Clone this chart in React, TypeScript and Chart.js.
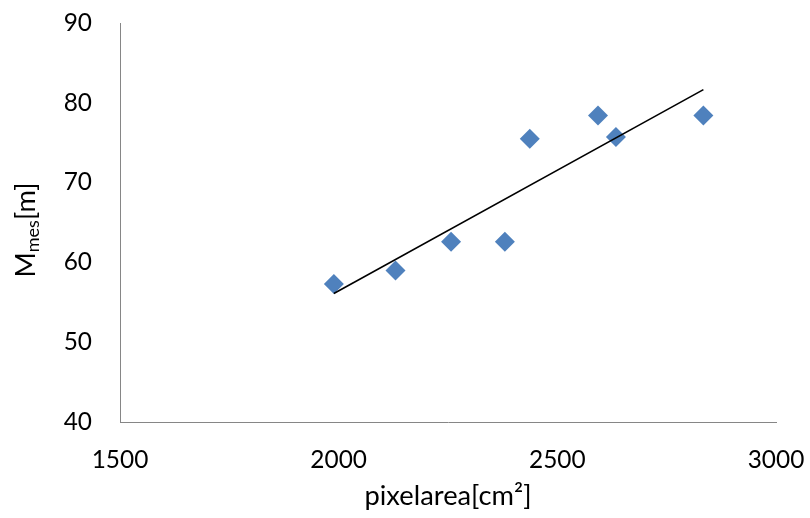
import React, { useEffect, useRef } from "react";
import { Chart, registerables } from "chart.js";

Chart.register(...registerables);

const pixelArea = [1989, 2130, 2257, 2380, 2437, 2593, 2634, 2834];
const mMes = [57.3, 59.0, 62.6, 62.6, 75.5, 78.4, 75.7, 78.4];
const trendX = [1989, 2834];
const trendY = [56.1, 81.65];
const xTicks = [1500, 2000, 2500, 3000];
const yTicks = [40, 50, 60, 70, 80, 90];
const xTitle = "pixelarea[cm²]";
const yTitleMain = "M";
const yTitleSub = "mes";
const yTitleUnit = "[m]";

const FONT = "Lato, 'Open Sans', sans-serif";

function fitSize(text: string, target: number): number {
  const c = document.createElement("canvas").getContext("2d");
  if (!c) return 25;
  c.font = `100px ${FONT}`;
  const w = c.measureText(text).width;
  if (!w) return 25;
  return Math.round(((100 * target) / w) * 10) / 10;
}

export default function App() {
  const ref = useRef<HTMLCanvasElement | null>(null);
  useEffect(() => {
    if (!ref.current) return;
    const tickSize = fitSize("1500", 56.7);
    const titleSize = fitSize(xTitle, 167);
    const titlePlugin = {
      id: "axisTitles",
      afterDraw(chart: any) {
        const ctx = chart.ctx;
        const area = chart.chartArea;
        ctx.save();
        ctx.fillStyle = "#000";
        ctx.font = `${titleSize}px ${FONT}`;
        ctx.textAlign = "center";
        ctx.textBaseline = "alphabetic";
        ctx.fillText(xTitle, (area.left + area.right) / 2, 505);
        const mainFont = `${titleSize}px ${FONT}`;
        const subFont = `${Math.round(titleSize * 0.65)}px ${FONT}`;
        ctx.font = mainFont;
        const wM = ctx.measureText(yTitleMain).width;
        const wU = ctx.measureText(yTitleUnit).width;
        ctx.font = subFont;
        const wS = ctx.measureText(yTitleSub).width;
        const total = wM + wS + wU;
        ctx.translate(35, 230);
        ctx.rotate(-Math.PI / 2);
        ctx.textAlign = "left";
        let x = -total / 2;
        ctx.font = mainFont;
        ctx.fillText(yTitleMain, x, 0);
        x += wM;
        ctx.font = subFont;
        ctx.fillText(yTitleSub, x, 4);
        x += wS;
        ctx.font = mainFont;
        ctx.fillText(yTitleUnit, x, 0);
        ctx.restore();
      },
    };
    const zeroPad = (s: any) => {
      s.paddingTop = 0;
      s.paddingBottom = 0;
      s.paddingLeft = 0;
      s.paddingRight = 0;
    };
    const chart = new Chart(ref.current, {
      type: "scatter",
      data: {
        datasets: [
          {
            type: "scatter",
            data: pixelArea.map((x, i) => ({ x, y: mMes[i] })),
            pointStyle: "rectRot",
            pointRadius: 10,
            pointHoverRadius: 10,
            backgroundColor: "#4F81BD",
            borderColor: "#4F81BD",
            borderWidth: 0,
            order: 2,
          },
          {
            type: "line",
            data: trendX.map((x, i) => ({ x, y: trendY[i] })),
            borderColor: "#000",
            borderWidth: 1.6,
            pointRadius: 0,
            showLine: true,
            fill: false,
            order: 1,
          } as any,
        ],
      },
      options: {
        animation: false,
        responsive: true,
        maintainAspectRatio: false,
        layout: { autoPadding: false, padding: { top: 23, right: 34, left: 0, bottom: 0 } },
        plugins: { legend: { display: false }, tooltip: { enabled: false } },
        scales: {
          x: {
            type: "linear",
            min: 1500,
            max: 3000,
            afterBuildTicks: (s: any) => {
              s.ticks = xTicks.map((v) => ({ value: v }));
            },
            afterFit: (s: any) => {
              s.height = 96;
              zeroPad(s);
            },
            grid: { display: false, drawTicks: false },
            border: { display: true, color: "#868686", width: 1 },
            ticks: {
              padding: 24,
              color: "#000",
              font: { family: FONT, size: tickSize },
              maxRotation: 0,
              callback: (v: any) => String(v),
            },
          },
          y: {
            type: "linear",
            min: 40,
            max: 90,
            afterBuildTicks: (s: any) => {
              s.ticks = yTicks.map((v) => ({ value: v }));
            },
            afterFit: (s: any) => {
              s.width = 120;
              zeroPad(s);
            },
            grid: { display: false, drawTicks: false },
            border: { display: true, color: "#868686", width: 1 },
            ticks: {
              padding: 28,
              color: "#000",
              font: { family: FONT, size: tickSize },
              callback: (v: any) => String(v),
            },
          },
        },
      },
      plugins: [titlePlugin],
    });
    return () => chart.destroy();
  }, []);
  return (
    <div style={{ position: "absolute", left: 0, top: 0, width: 810, height: 518 }}>
      <canvas ref={ref} />
    </div>
  );
}
